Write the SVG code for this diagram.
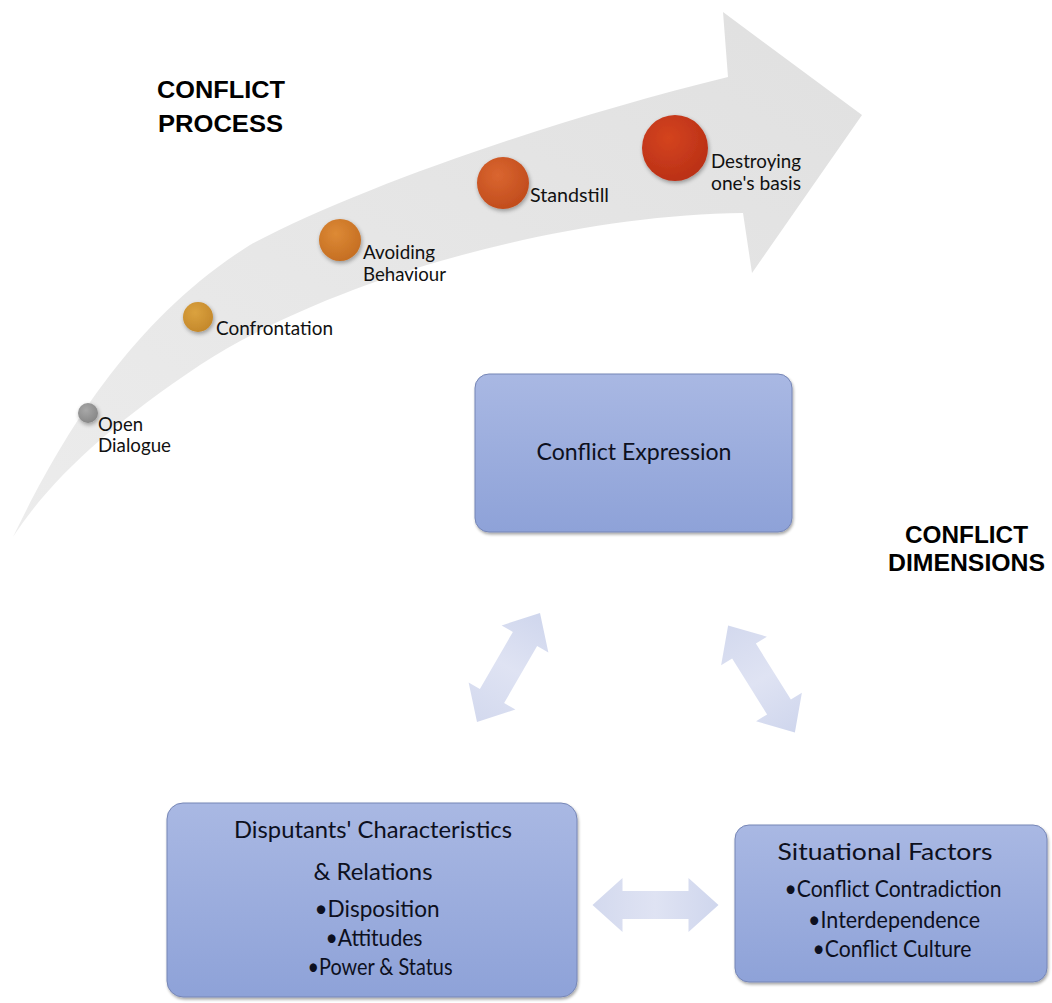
<svg xmlns="http://www.w3.org/2000/svg" width="1052" height="1003" viewBox="0 0 1052 1003">
  <style>
    .label { font-family: Lato, "Liberation Sans", sans-serif; font-size: 19.5px; fill: #111; }
    .boxtext { font-family: Lato, "Liberation Sans", sans-serif; font-size: 23px; fill: #0d1020; text-anchor: middle; }
    .heading { font-family: "Liberation Sans", Arial, sans-serif; font-size: 24px; font-weight: bold; fill: #000; }
    .box { fill: url(#boxFill); stroke: #7686b6; stroke-width: 1; filter: url(#boxShadow); }
    .dbl { fill: url(#dblFill); }
  </style>
  <defs>
    <linearGradient id="processFill" x1="0" y1="1" x2="1" y2="0">
      <stop offset="0" stop-color="#ececec"/>
      <stop offset="1" stop-color="#e0e0e0"/>
    </linearGradient>
    <linearGradient id="boxFill" x1="0" y1="0" x2="0" y2="1">
      <stop offset="0" stop-color="#a9b8e3"/>
      <stop offset="1" stop-color="#8ea2d8"/>
    </linearGradient>
    <linearGradient id="dblFill" gradientUnits="userSpaceOnUse" x1="-63" y1="0" x2="63" y2="0">
      <stop offset="0" stop-color="#d3d9ee"/>
      <stop offset="0.5" stop-color="#dfe3f3"/>
      <stop offset="1" stop-color="#cfd6ed"/>
    </linearGradient>
    <radialGradient id="gOpen" cx="0.4" cy="0.35" r="0.7">
      <stop offset="0" stop-color="#a8a8a8"/>
      <stop offset="1" stop-color="#858585"/>
    </radialGradient>
    <radialGradient id="gConf" cx="0.4" cy="0.35" r="0.7">
      <stop offset="0" stop-color="#dba23f"/>
      <stop offset="1" stop-color="#c3872a"/>
    </radialGradient>
    <radialGradient id="gAvoid" cx="0.4" cy="0.35" r="0.7">
      <stop offset="0" stop-color="#dd8a35"/>
      <stop offset="1" stop-color="#c46d22"/>
    </radialGradient>
    <radialGradient id="gStand" cx="0.4" cy="0.35" r="0.7">
      <stop offset="0" stop-color="#da6630"/>
      <stop offset="1" stop-color="#c04b1c"/>
    </radialGradient>
    <radialGradient id="gDestroy" cx="0.4" cy="0.35" r="0.7">
      <stop offset="0" stop-color="#d4441f"/>
      <stop offset="1" stop-color="#b92f16"/>
    </radialGradient>
    <filter id="ballShadow" x="-40%" y="-40%" width="180%" height="180%">
      <feGaussianBlur in="SourceAlpha" stdDeviation="2"/>
      <feOffset dx="1" dy="2" result="b"/>
      <feComponentTransfer><feFuncA type="linear" slope="0.35"/></feComponentTransfer>
      <feMerge><feMergeNode/><feMergeNode in="SourceGraphic"/></feMerge>
    </filter>
    <filter id="boxShadow" x="-5%" y="-5%" width="110%" height="115%">
      <feGaussianBlur in="SourceAlpha" stdDeviation="1.5"/>
      <feOffset dx="1" dy="2" result="b"/>
      <feComponentTransfer><feFuncA type="linear" slope="0.35"/></feComponentTransfer>
      <feMerge><feMergeNode/><feMergeNode in="SourceGraphic"/></feMerge>
    </filter>
    <!-- two-headed block arrow, centred on the origin, pointing along x -->
    <path id="dblArrow" class="dbl" d="M-63,0 L-33,-27 L-33,-14 L33,-14 L33,-27 L63,0 L33,27 L33,14 L-33,14 L-33,27 Z"/>
  </defs>

  <rect width="1052" height="1003" fill="#ffffff"/>

  <!-- conflict process: curved arrow with escalation stages -->
  <g id="process-arrow">
    <path fill="url(#processFill)" d="M13,537 C60,440 130,320 250,245 C360,186 560,118 728,77 L723,12 L862,115 L752,273 L743,213 C560,215 330,280 200,365 C110,425 50,480 13,537 Z"/>
  </g>

  <g id="heading-process">
    <text class="heading" x="157" y="98" textLength="128" lengthAdjust="spacingAndGlyphs">CONFLICT</text>
    <text class="heading" x="158" y="132" textLength="125" lengthAdjust="spacingAndGlyphs">PROCESS</text>
  </g>

  <g id="stage-open-dialogue">
    <circle cx="88" cy="413" r="10" fill="url(#gOpen)" filter="url(#ballShadow)"/>
    <text class="label" x="98" y="431" textLength="45" lengthAdjust="spacingAndGlyphs">Open</text>
    <text class="label" x="98" y="452" textLength="73" lengthAdjust="spacingAndGlyphs">Dialogue</text>
  </g>

  <g id="stage-confrontation">
    <circle cx="198" cy="317" r="15" fill="url(#gConf)" filter="url(#ballShadow)"/>
    <text class="label" x="216" y="335" textLength="117" lengthAdjust="spacingAndGlyphs">Confrontation</text>
  </g>

  <g id="stage-avoiding">
    <circle cx="340" cy="240" r="21" fill="url(#gAvoid)" filter="url(#ballShadow)"/>
    <text class="label" x="363" y="259" textLength="72" lengthAdjust="spacingAndGlyphs">Avoiding</text>
    <text class="label" x="363" y="281" textLength="83" lengthAdjust="spacingAndGlyphs">Behaviour</text>
  </g>

  <g id="stage-standstill">
    <circle cx="503" cy="183" r="26" fill="url(#gStand)" filter="url(#ballShadow)"/>
    <text class="label" x="530" y="202" textLength="79" lengthAdjust="spacingAndGlyphs">Standstill</text>
  </g>

  <g id="stage-destroying">
    <circle cx="675" cy="148" r="33" fill="url(#gDestroy)" filter="url(#ballShadow)"/>
    <text class="label" x="711" y="168" textLength="90" lengthAdjust="spacingAndGlyphs">Destroying</text>
    <text class="label" x="711" y="190" textLength="90" lengthAdjust="spacingAndGlyphs">one's basis</text>
  </g>

  <!-- conflict dimensions -->
  <g id="heading-dimensions">
    <text class="heading" x="905" y="543" textLength="123" lengthAdjust="spacingAndGlyphs">CONFLICT</text>
    <text class="heading" x="888" y="571" textLength="157" lengthAdjust="spacingAndGlyphs">DIMENSIONS</text>
  </g>

  <g id="node-expression">
    <rect class="box" x="475" y="374" width="317" height="158" rx="14"/>
    <text class="boxtext" x="634" y="460" textLength="195" lengthAdjust="spacingAndGlyphs">Conflict Expression</text>
  </g>

  <g id="node-disputants">
    <rect class="box" x="167" y="803" width="410" height="194" rx="16"/>
    <text class="boxtext" x="373" y="838" textLength="278" lengthAdjust="spacingAndGlyphs">Disputants' Characteristics</text>
    <text class="boxtext" x="373" y="880" textLength="119" lengthAdjust="spacingAndGlyphs">&amp; Relations</text>
    <text class="boxtext" x="377" y="917" textLength="125" lengthAdjust="spacingAndGlyphs">•Disposition</text>
    <text class="boxtext" x="374" y="946" textLength="97" lengthAdjust="spacingAndGlyphs">•Attitudes</text>
    <text class="boxtext" x="380" y="975" textLength="145" lengthAdjust="spacingAndGlyphs">•Power &amp; Status</text>
  </g>

  <g id="node-situational">
    <rect class="box" x="735" y="825" width="312" height="157" rx="14"/>
    <text class="boxtext" x="885" y="860" textLength="215" lengthAdjust="spacingAndGlyphs">Situational Factors</text>
    <text class="boxtext" x="893" y="897" textLength="217" lengthAdjust="spacingAndGlyphs">•Conflict Contradiction</text>
    <text class="boxtext" x="894" y="928" textLength="172" lengthAdjust="spacingAndGlyphs">•Interdependence</text>
    <text class="boxtext" x="892" y="957" textLength="159" lengthAdjust="spacingAndGlyphs">•Conflict Culture</text>
  </g>

  <!-- two-way links between the dimensions -->
  <g id="connectors">
    <use href="#dblArrow" transform="translate(508.5,667.5) rotate(-60)"/>
    <use href="#dblArrow" transform="translate(761.5,679) rotate(58)"/>
    <use href="#dblArrow" transform="translate(655.5,905)"/>
  </g>
</svg>
